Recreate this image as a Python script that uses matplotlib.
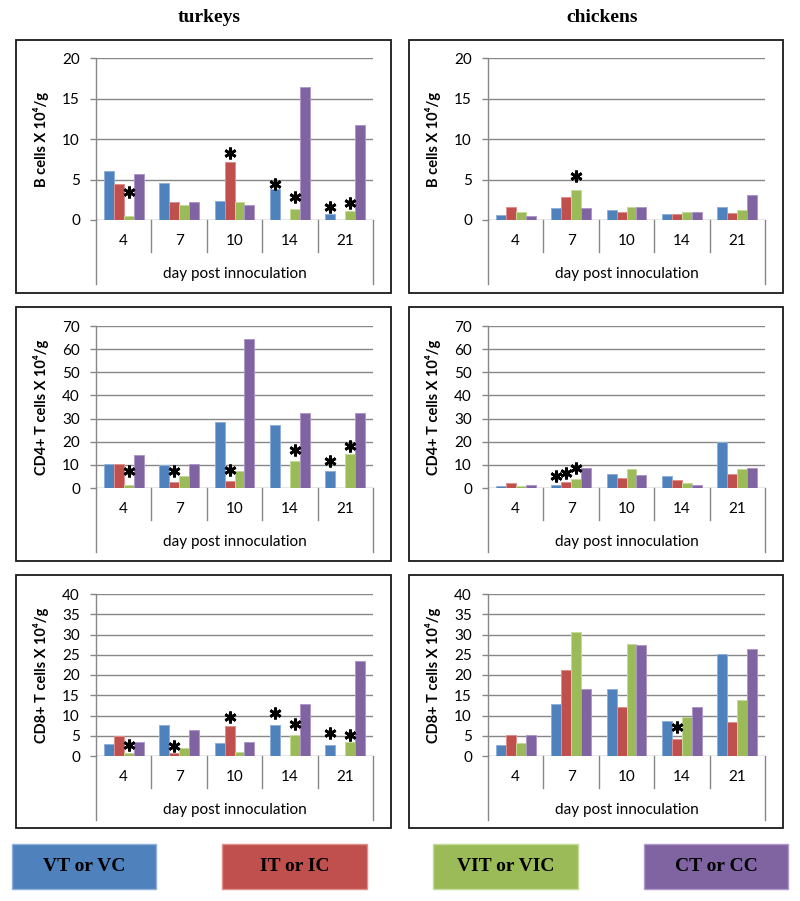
import numpy as np
import matplotlib
matplotlib.use("Agg")
import matplotlib.pyplot as plt
from matplotlib.patches import Rectangle
from matplotlib.transforms import blended_transform_factory

plt.rcParams['font.family'] = ['Lato', 'DejaVu Sans']

nan = float('nan')

days = ['4', '7', '10', '14', '21']
group_labels = ['VT or VC', 'IT or IC', 'VIT or VIC', 'CT or CC']
colors = ['#4F81BD', '#C0504D', '#9BBB59', '#8064A2']
edge_colors = ['#8EB0DA', '#DE8F8C', '#C4DA98', '#AE97C9']

# turkeys - B cells
turkey_b_vt = [6.1, 4.6, 2.3, 3.8, 0.74]
turkey_b_it = [4.4, 2.27, 7.2, nan, nan]
turkey_b_vit = [0.54, 1.8, 2.27, 1.36, 1.1]
turkey_b_ct = [5.7, 2.27, 1.8, 16.4, 11.8]
turkey_b_stars = [(0, 2, 3.5), (2, 1, 8.3), (3, 0, 4.45), (3, 2, 2.9), (4, 0, 1.57), (4, 2, 2.14)]

# chickens - B cells
chicken_b_vc = [0.62, 1.44, 1.2, 0.7, 1.65]
chicken_b_ic = [1.65, 2.8, 0.95, 0.74, 0.82]
chicken_b_vic = [0.95, 3.7, 1.6, 0.95, 1.2]
chicken_b_cc = [0.45, 1.48, 1.6, 0.95, 3.1]
chicken_b_stars = [(1, 2, 5.4)]

# turkeys - CD4+
turkey_cd4_vt = [10.5, 9.9, 28.5, 27.2, 7.3]
turkey_cd4_it = [10.5, 2.4, 2.9, nan, nan]
turkey_cd4_vit = [1.4, 5.0, 7.3, 11.6, 14.7]
turkey_cd4_ct = [14.2, 10.5, 64.3, 32.3, 32.3]
turkey_cd4_stars = [(0, 2, 7.2), (1, 1, 7.2), (2, 1, 7.6), (3, 2, 16.5), (4, 0, 11.8), (4, 2, 18.3)]

# chickens - CD4+
chicken_cd4_vc = [1.0, 1.3, 5.9, 5.3, 20.0]
chicken_cd4_ic = [2.3, 2.4, 4.5, 3.3, 6.0]
chicken_cd4_vic = [1.0, 3.9, 8.3, 2.3, 8.3]
chicken_cd4_cc = [1.3, 8.5, 5.6, 1.3, 8.6]
chicken_cd4_stars = [(1, 0, 5.3), (1, 1, 6.5), (1, 2, 8.6)]

# turkeys - CD8+
turkey_cd8_vt = [2.9, 7.75, 3.2, 7.7, 2.8]
turkey_cd8_it = [4.9, 0.66, 7.5, nan, nan]
turkey_cd8_vit = [0.66, 1.9, 1.07, 5.1, 3.46]
turkey_cd8_ct = [3.5, 6.5, 3.5, 12.95, 23.4]
turkey_cd8_stars = [(0, 2, 2.7), (1, 1, 2.5), (2, 1, 9.6), (3, 0, 10.5), (3, 2, 7.8), (4, 0, 5.8), (4, 2, 5.3)]

# chickens - CD8+
chicken_cd8_vc = [2.6, 12.8, 16.6, 8.6, 25.1]
chicken_cd8_ic = [5.1, 21.2, 12.1, 4.2, 8.3]
chicken_cd8_vic = [3.1, 30.6, 27.7, 9.7, 13.9]
chicken_cd8_cc = [5.1, 16.6, 27.4, 12.0, 26.3]
chicken_cd8_stars = [(3, 1, 7.2)]

column_titles = ['turkeys', 'chickens']
xlabel = 'day post innoculation'
ylabels = ['B cells X 10⁴/g', 'CD4+ T cells X 10⁴/g', 'CD8+ T cells X 10⁴/g']
ymax = [20, 70, 40]
ystep = [5, 10, 5]

panels = [
    [([turkey_b_vt, turkey_b_it, turkey_b_vit, turkey_b_ct], turkey_b_stars),
     ([chicken_b_vc, chicken_b_ic, chicken_b_vic, chicken_b_cc], chicken_b_stars)],
    [([turkey_cd4_vt, turkey_cd4_it, turkey_cd4_vit, turkey_cd4_ct], turkey_cd4_stars),
     ([chicken_cd4_vc, chicken_cd4_ic, chicken_cd4_vic, chicken_cd4_cc], chicken_cd4_stars)],
    [([turkey_cd8_vt, turkey_cd8_it, turkey_cd8_vit, turkey_cd8_ct], turkey_cd8_stars),
     ([chicken_cd8_vc, chicken_cd8_ic, chicken_cd8_vic, chicken_cd8_cc], chicken_cd8_stars)],
]

W, H = 800, 901
fig = plt.figure(figsize=(W / 100, H / 100), dpi=100)


def fx(px):
    return px / W


def fy(py):
    return 1 - py / H


# layout in pixels
col_axes_x = [(96, 373), (488, 765)]
col_box_x = [(16, 391), (409, 783)]
row_axes_y = [(58.3, 220), (326, 488), (594, 756)]
row_box_y = [(40, 293), (307, 561), (575, 828)]
sep_len = 32
outer_len = 64
cat_label_off = 21
xlabel_off = 54

grid_col = '#878787'
bar_w = 0.18
offsets = (np.arange(4) - 1.5) * bar_w

for r in range(3):
    for c in range(2):
        bx0, bx1 = col_box_x[c]
        by0, by1 = row_box_y[r]
        fig.patches.append(Rectangle((fx(bx0), fy(by1)), (bx1 - bx0) / W, (by1 - by0) / H,
                                     transform=fig.transFigure, fill=False,
                                     edgecolor='#1a1a1a', linewidth=1.3))
        ax0, ax1 = col_axes_x[c]
        ay0, ay1 = row_axes_y[r]
        ax = fig.add_axes([fx(ax0), fy(ay1), (ax1 - ax0) / W, (ay1 - ay0) / H])
        series, stars = panels[r][c]
        x = np.arange(len(days))
        for g in range(4):
            ax.bar(x + offsets[g], series[g], width=bar_w, color=colors[g],
                   edgecolor=edge_colors[g], linewidth=0.7, zorder=3)
        for (d, g, yv) in stars:
            ax.plot(d + offsets[g], yv, marker=(6, 2, 0), markersize=8.5,
                    markeredgewidth=2.0, color='black', zorder=5, clip_on=False)
        ax.set_xlim(-0.5, len(days) - 0.5)
        ax.set_ylim(0, ymax[r])
        ax.set_yticks(np.arange(0, ymax[r] + 0.1, ystep[r]))
        ax.yaxis.grid(True, color=grid_col, linewidth=1.0, zorder=0)
        ax.set_axisbelow(True)
        for s in ['top', 'right', 'bottom']:
            ax.spines[s].set_visible(False)
        ax.spines['left'].set_color(grid_col)
        ax.spines['left'].set_linewidth(1.0)
        ax.set_xticks([])
        ax.tick_params(axis='y', length=4.5, color=grid_col, width=1.0, pad=7,
                       labelsize=11, labelcolor='black')
        ax.set_ylabel(ylabels[r], fontsize=10.5, fontweight='bold')
        ax.yaxis.set_label_coords(-47 / (ax1 - ax0), 0.5)

        # category axis (multi-level style)
        tr = blended_transform_factory(ax.transData, fig.transFigure)
        for b in np.arange(-0.5, len(days), 1.0):
            ln = sep_len if 0 < b < len(days) - 1 else outer_len
            ax.plot([b, b], [fy(ay1), fy(ay1 + ln)], transform=tr, color=grid_col,
                    linewidth=1.0, clip_on=False)
        for i, d in enumerate(days):
            ax.text(i, fy(ay1 + cat_label_off), d, transform=tr, ha='center',
                    va='center', fontsize=11)
        fig.text(fx((ax0 + ax1) / 2), fy(ay1 + xlabel_off), xlabel, ha='center',
                 va='center', fontsize=11)

# column titles
for c in range(2):
    ax0, ax1 = col_axes_x[c]
    fig.text(fx((col_box_x[c][0] + col_box_x[c][1]) / 2 + 6), fy(18), column_titles[c],
             ha='center', va='center', fontsize=14, fontweight='bold',
             family=['Liberation Serif', 'DejaVu Serif'])

# legend boxes
leg_x = [(12, 156), (222, 367), (433, 578), (644, 788)]
leg_y = (844, 889)
for g in range(4):
    x0, x1 = leg_x[g]
    fig.patches.append(Rectangle((fx(x0), fy(leg_y[1])), (x1 - x0) / W, (leg_y[1] - leg_y[0]) / H,
                                 transform=fig.transFigure, facecolor=colors[g],
                                 edgecolor=edge_colors[g], linewidth=1.0))
    fig.text(fx((x0 + x1) / 2), fy((leg_y[0] + leg_y[1]) / 2), group_labels[g],
             ha='center', va='center', fontsize=14, fontweight='bold',
             family=['Liberation Serif', 'DejaVu Serif'])

fig.savefig('out.png', dpi=100)
